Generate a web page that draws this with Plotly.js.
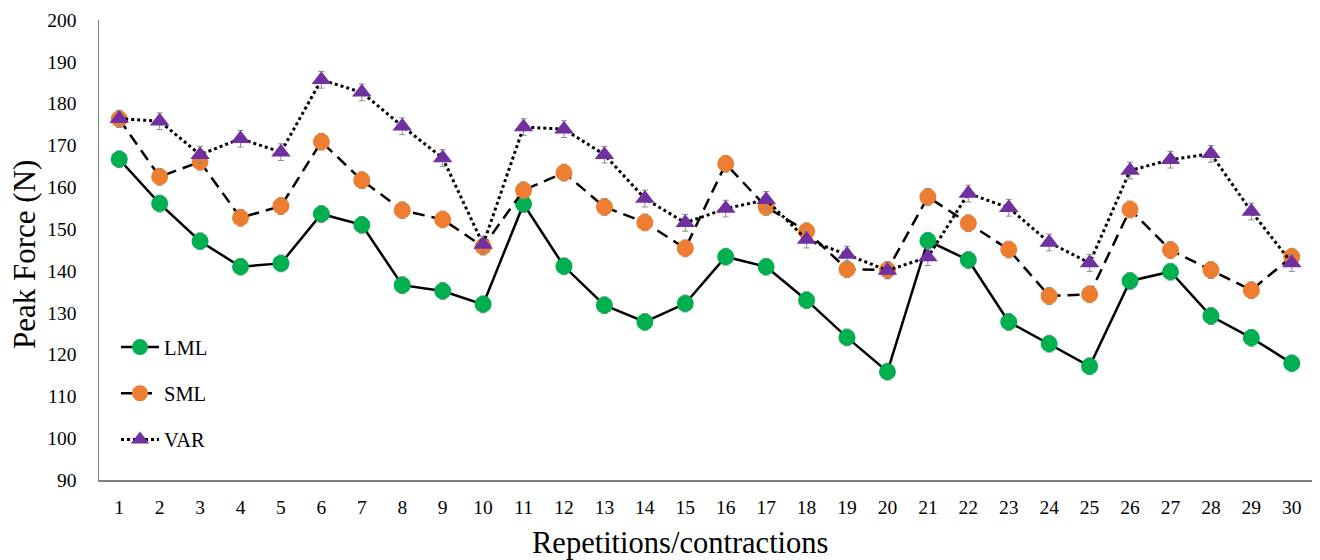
<!DOCTYPE html>
<html>
<head>
<meta charset="utf-8">
<script src="https://cdn.plot.ly/plotly-3.0.1.min.js"></script>
<style>html,body{margin:0;padding:0;background:#fff;}#chart{width:1320px;height:560px;}</style>
</head>
<body>
<div id="chart"></div>
<script>
var reps = [1,2,3,4,5,6,7,8,9,10,11,12,13,14,15,16,17,18,19,20,21,22,23,24,25,26,27,28,29,30];
var lml = [166.7,156.1,147.1,141.0,141.8,153.6,151.0,136.6,135.2,132.0,156.0,141.1,131.8,127.8,132.2,143.4,141.0,133.0,124.1,115.9,147.2,142.6,127.8,122.6,117.2,137.6,139.8,129.2,124.0,117.9];
var sml = [176.3,162.5,166.1,152.7,155.5,170.9,161.7,154.5,152.3,145.8,159.3,163.5,155.3,151.6,145.4,165.6,155.3,149.5,140.4,140.2,157.7,151.4,145.1,134.0,134.4,154.7,145.0,140.2,135.4,143.4];
var vari = [176.4,175.8,167.8,171.6,168.4,185.7,182.7,174.6,167.0,146.3,174.4,173.9,167.8,157.3,151.5,154.9,157.0,147.5,143.9,140.1,143.3,158.5,155.1,146.8,141.9,164.0,166.6,168.0,154.2,141.9];
var errLML = 2.0, errSML = 2.0, errVAR = 2.0;
var xTitle = 'Repetitions/contractions';
var yTitle = 'Peak Force (N)';

var serif = '"Liberation Serif", "Times New Roman", serif';
function eb(v){ return {type:'constant', value:v, color:'#8c8c8c', thickness:1, width:3}; }

var traces = [
  {x:reps, y:lml, name:'LML', type:'scatter', mode:'lines+markers', legendgroup:'a',
   line:{color:'#000', width:2.5, dash:'solid'},
   marker:{color:'#00B050', size:17, symbol:'circle'}, error_y:eb(errLML)},
  {x:reps, y:sml, name:'SML', type:'scatter', mode:'lines+markers', legendgroup:'b',
   line:{color:'#000', width:2.5, dash:'12px,7px'},
   marker:{color:'#ED7D31', size:17, symbol:'circle'}, error_y:eb(errSML)},
  {x:reps, y:vari, name:'VAR', type:'scatter', mode:'lines+markers', legendgroup:'c',
   line:{color:'#000', width:3, dash:'dot'},
   marker:{color:'#7030A0', size:17, symbol:'triangle-up'}, error_y:eb(errVAR)}
];

var layout = {
  width:1320, height:560,
  margin:{l:99, r:8, t:20, b:80},
  paper_bgcolor:'#fff', plot_bgcolor:'#fff',
  font:{family:serif, color:'#000', size:19.5},
  showlegend:true,
  legend:{x:0.014, y:0.332, xanchor:'left', yanchor:'top', traceorder:'grouped', tracegroupgap:16.5,
          itemwidth:38,
          font:{family:serif, size:20.5, color:'#000'}, bgcolor:'rgba(0,0,0,0)'},
  xaxis:{range:[0.5,30.5], tickmode:'array', tickvals:reps, ticktext:reps.map(String),
         showgrid:false, zeroline:false, showline:true, linecolor:'#7f7f7f', linewidth:1.5,
         ticks:'', ticklabelstandoff:9, tickfont:{family:serif, size:19.5, color:'#000'}},
  yaxis:{range:[90,200], tickmode:'linear', tick0:90, dtick:10,
         showgrid:false, zeroline:false, showline:true, linecolor:'#7f7f7f', linewidth:1.5,
         ticks:'', ticklabelstandoff:17, tickfont:{family:serif, size:19.5, color:'#000'}},
  annotations:[
    {text:xTitle, xref:'paper', yref:'paper', x:(680-99)/1213, y:-(543-480)/460,
     xanchor:'center', yanchor:'middle', showarrow:false,
     font:{family:serif, size:30.5, color:'#000'}},
    {text:yTitle, xref:'paper', yref:'paper', x:-(99-24)/1213, y:(480-255)/460,
     xanchor:'center', yanchor:'middle', showarrow:false, textangle:-90,
     font:{family:serif, size:31, color:'#000'}}
  ]
};

Plotly.newPlot('chart', traces, layout, {displayModeBar:false, staticPlot:true});
</script>
</body>
</html>
